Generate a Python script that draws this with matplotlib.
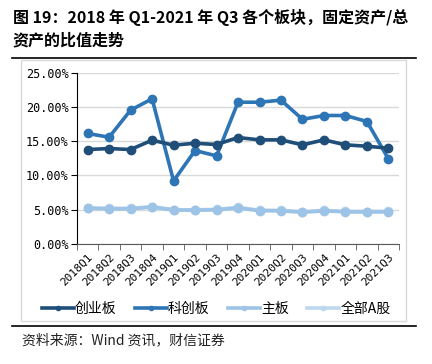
import numpy as np
import matplotlib.pyplot as plt
from matplotlib.lines import Line2D

plt.rcParams['font.family'] = ['Noto Sans CJK SC', 'DejaVu Sans']

quarters = ['2018Q1', '2018Q2', '2018Q3', '2018Q4', '2019Q1', '2019Q2', '2019Q3', '2019Q4',
            '2020Q1', '2020Q2', '2020Q3', '2020Q4', '2021Q1', '2021Q2', '2021Q3']
chinext = [13.79, 13.93, 13.79, 15.15, 14.42, 14.71, 14.52, 15.54,
           15.20, 15.20, 14.47, 15.20, 14.47, 14.27, 13.98]
star = [16.13, 15.59, 19.54, 21.20, 9.20, 13.64, 12.86, 20.70,
        20.70, 21.00, 18.20, 18.76, 18.76, 17.88, 12.42]
main_board = [5.20, 5.12, 5.12, 5.38, 4.95, 4.92, 4.98, 5.25,
              4.85, 4.82, 4.62, 4.82, 4.68, 4.66, 4.68]
all_a = [5.26, 5.20, 5.20, 5.45, 5.00, 4.97, 5.05, 5.33,
         4.92, 4.90, 4.70, 4.90, 4.75, 4.73, 4.75]

names = ['创业板', '科创板', '主板', '全部A股']
colors = ['#1F4E79', '#2E75B6', '#9DC3E6', '#BDD7EE']
series = [chinext, star, main_board, all_a]

fig = plt.figure(figsize=(4.32, 3.64), dpi=100)

# title
fig.text(0.03, 0.953, '图 19：2018 年 Q1-2021 年 Q3 各个板块，固定资产/总',
         fontsize=11.5, fontweight='bold', va='center')
fig.text(0.03, 0.890, '资产的比值走势', fontsize=11.5, fontweight='bold', va='center')
fig.add_artist(Line2D([0.028, 0.963], [0.840, 0.840], color='black', lw=1.2))
fig.add_artist(Line2D([0.028, 0.963], [0.104, 0.104], color='black', lw=1.2))
fig.add_artist(plt.Rectangle((0.049, 0.118), 0.89, 0.717, fill=False,
                             edgecolor='#D9D9D9', lw=1))
fig.text(0.052, 0.066, '资料来源：Wind 资讯，财信证券', fontsize=10,
         style='italic', va='center', color='#222222')

ax = fig.add_axes([0.178, 0.330, 0.746, 0.470])
x = np.arange(len(quarters))
# draw light series first so darker ones sit on top
for i in [3, 2, 1, 0]:
    ax.plot(x, series[i], color=colors[i], lw=2.6, marker='o', markersize=6,
            label=names[i], zorder=3 + (3 - i))

ax.set_xlim(-0.5, len(quarters) - 0.5)
ax.set_ylim(0, 25)
ax.set_yticks(np.arange(0, 26, 5))
ax.set_yticklabels([f'{v:.2f}%' for v in np.arange(0, 26, 5)],
                   fontfamily='DejaVu Sans Mono', fontsize=8.5)
ax.set_xticks(x)
ax.set_xticklabels(quarters, rotation=45, ha='right', rotation_mode='anchor',
                   fontfamily='DejaVu Sans Mono', fontsize=8)
ax.tick_params(axis='x', length=0, pad=6)
ax.set_xticks(np.arange(-0.5, len(quarters), 1), minor=True)
ax.tick_params(axis='x', which='minor', length=4, color='#595959')
ax.tick_params(axis='y', length=4, color='black', pad=2)
ax.grid(axis='y', color='#D9D9D9', lw=1)
ax.set_axisbelow(True)
for s in ['top', 'right']:
    ax.spines[s].set_visible(False)
ax.spines['left'].set_color('black')
ax.spines['bottom'].set_color('#595959')

handles = [Line2D([0], [0], color=c, lw=2.6, marker='o', markersize=3) for c in colors]
fig.legend(handles, names, loc='center', bbox_to_anchor=(0.5, 0.151), ncol=4,
           frameon=False, fontsize=10, handlelength=2.3, handletextpad=0.1,
           columnspacing=1.3)

fig.savefig('out.png', dpi=100)
